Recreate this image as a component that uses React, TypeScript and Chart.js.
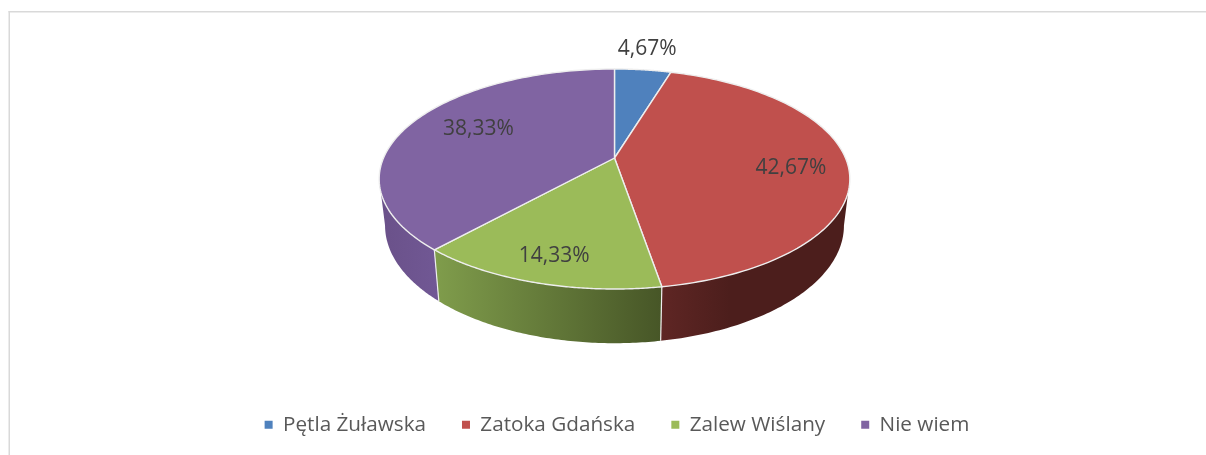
import React, { useEffect, useRef } from "react";
import { Chart, registerables } from "chart.js";

Chart.register(...registerables);

const categories = ["Pętla Żuławska", "Zatoka Gdańska", "Zalew Wiślany", "Nie wiem"];
const shares = [4.67, 42.67, 14.33, 38.33];
const valueLabels = ["4,67%", "42,67%", "14,33%", "38,33%"];
const sliceColors = ["#4f81bd", "#c0504d", "#9bbb59", "#8064a2"];

// Styling of the tilted pie
const wallGradients: [string, string, number, number][] = [
  ["#3b608d", "#3b608d", 614, 671],
  ["#5f2624", "#4c1e1c", 661, 730],
  ["#7f9c4b", "#475627", 437, 661],
  ["#6a5189", "#715895", 380, 440],
];
const labelRadial = [1.32, 0.75, 0.81, 0.67];
const labelShiftX = [-3, 2, 1, 2];
const labelShiftY = [2, 5, 1, -5];
const CX = 614.5, CY = 158, R = 231, S = 106, K = 0.191;
const FONT = "'Open Sans'";

const project = (t: number, f = 1): [number, number] => {
  const u = f * Math.sin(t), v = -f * Math.cos(t), d = 1 - K * v;
  return [CX + (R * u) / d, CY + (S * v) / d];
};
const projectBase = (t: number): [number, number] => {
  const [x, y] = project(t);
  return [CX + 0.975 * (x - CX), CY + 45 + 1.07 * (y - CY)];
};

const pie3d = {
  id: "pie3d",
  beforeDraw(chart: any) {
    const { ctx, width, height } = chart;
    ctx.save();
    ctx.fillStyle = "#ffffff";
    ctx.fillRect(0, 0, width, height);
    ctx.fillStyle = "#d9d9d9";
    ctx.fillRect(8.5, 11, width, 1.5);
    ctx.fillRect(8.5, 11, 1.5, height);
    ctx.restore();
  },
  beforeDatasetsDraw(chart: any) {
    const { ctx } = chart;
    const arcs = chart.getDatasetMeta(0).data;
    const span = arcs.map((a: any) => [a.startAngle + Math.PI / 2, a.endAngle + Math.PI / 2]);
    ctx.save();
    const lo = Math.acos(-K), hi = 2 * Math.PI - lo;
    span.forEach(([s, e]: number[], i: number) => {
      const a = Math.max(s, lo), b = Math.min(e, hi);
      if (a >= b) return;
      const n = 80;
      ctx.beginPath();
      for (let k = 0; k <= n; k++) {
        const [x, y] = project(a + ((b - a) * k) / n);
        k ? ctx.lineTo(x, y) : ctx.moveTo(x, y);
      }
      for (let k = n; k >= 0; k--) {
        const [x, y] = projectBase(a + ((b - a) * k) / n);
        ctx.lineTo(x, y);
      }
      ctx.closePath();
      const [c0, c1, x0, x1] = wallGradients[i];
      const g = ctx.createLinearGradient(x0, 0, x1, 0);
      g.addColorStop(0, c0);
      g.addColorStop(1, c1);
      ctx.fillStyle = g;
      ctx.fill();
    });
    span.forEach(([s]: number[]) => {
      if (s < Math.PI / 2 || s > (3 * Math.PI) / 2) return;
      const [x0, y0] = project(s), [x1, y1] = projectBase(s);
      ctx.beginPath();
      ctx.moveTo(x0, y0);
      ctx.lineTo(x1, y1);
      ctx.strokeStyle = "#eeeeee";
      ctx.lineWidth = 1.2;
      ctx.stroke();
    });
    ctx.lineJoin = "round";
    span.forEach(([s, e]: number[], i: number) => {
      ctx.beginPath();
      ctx.moveTo(CX, CY);
      const n = 120;
      for (let k = 0; k <= n; k++) {
        const [x, y] = project(s + ((e - s) * k) / n);
        ctx.lineTo(x, y);
      }
      ctx.closePath();
      ctx.fillStyle = sliceColors[i];
      ctx.fill();
      ctx.strokeStyle = "#eeeeee";
      ctx.lineWidth = 1.4;
      ctx.stroke();
    });
    ctx.font = `21px ${FONT}`;
    ctx.fillStyle = "#404040";
    ctx.textAlign = "center";
    ctx.textBaseline = "middle";
    span.forEach(([s, e]: number[], i: number) => {
      const [x, y] = project((s + e) / 2, labelRadial[i]);
      ctx.fillText(valueLabels[i], x + labelShiftX[i], y + labelShiftY[i]);
    });
    ctx.restore();
    return false;
  },
};

export default function App() {
  const ref = useRef<HTMLCanvasElement>(null);
  useEffect(() => {
    document.body.style.margin = "0";
    const chart = new Chart(ref.current!, {
      type: "pie",
      data: {
        labels: categories,
        datasets: [{ data: shares, backgroundColor: sliceColors, borderWidth: 0 }],
      },
      options: {
        responsive: false,
        animation: false,
        layout: { padding: { bottom: 10, left: 28 } },
        plugins: {
          tooltip: { enabled: false },
          legend: {
            position: "bottom",
            labels: {
              boxWidth: 8,
              boxHeight: 8,
              padding: 36,
              color: "#595959",
              font: { family: FONT, size: 20.7 },
            },
          },
        },
      },
      plugins: [pie3d],
    } as any);
    return () => chart.destroy();
  }, []);
  return <canvas ref={ref} width={1206} height={455} style={{ display: "block" }} />;
}
